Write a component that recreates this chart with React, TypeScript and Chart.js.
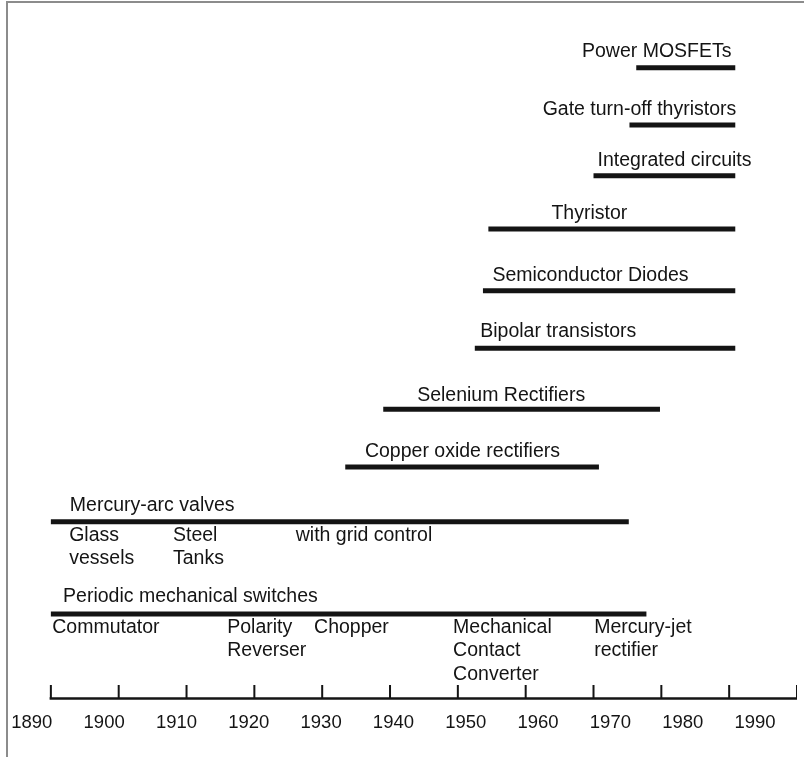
import React, { useEffect, useRef } from "react";
import { Chart, registerables } from "chart.js";

Chart.register(...registerables);

// ---- data ----
const technologies = [
  "Power MOSFETs",
  "Gate turn-off thyristors",
  "Integrated circuits",
  "Thyristor",
  "Semiconductor Diodes",
  "Bipolar transistors",
  "Selenium Rectifiers",
  "Copper oxide rectifiers",
  "Mercury-arc valves",
  "Periodic mechanical switches",
];
const startYears = [1976.3, 1975.3, 1970.0, 1954.5, 1953.7, 1952.5, 1939.0, 1933.4, 1890.0, 1890.0];
const endYears = [1990.9, 1990.9, 1990.9, 1990.9, 1990.9, 1990.9, 1979.8, 1970.8, 1975.2, 1977.8];
const labelYears = [1968.3, 1962.5, 1970.6, 1963.8, 1955.1, 1953.3, 1944.0, 1936.3, 1892.8, 1891.8];

const mercurySubLabels = [["Glass", "vessels"], ["Steel", "Tanks"], ["with grid control"]];
const mercurySubYears = [1892.7, 1908.0, 1926.1];
const switchSubLabels = [
  ["Commutator"],
  ["Polarity", "Reverser"],
  ["Chopper"],
  ["Mechanical", "Contact", "Converter"],
  ["Mercury-jet", "rectifier"],
];
const switchSubYears = [1890.2, 1916.0, 1928.8, 1949.3, 1970.1];

const axisTickYears = [1890, 1900, 1910, 1920, 1930, 1940, 1950, 1960, 1970, 1980, 1990, 2000];

// ---- layout (pixel rows inside chart area, y scale is reversed) ----
const rowY = [67.7, 125, 175.7, 229, 290.7, 348.3, 409.3, 467, 521.7, 614];
const labelGap = [11, 10, 10, 10.5, 10, 11.5, 8, 10, 10.5, 12.5];
const AXIS_Y = 698.5;
const TICK_TOP = 685;
const Y_MAX = 706;
const SUB_FIRST = 18.8;
const SUB_LINE = 23.4;

const INK = "#141414";
const FONT = '"Liberation Sans", Arial, Helvetica, sans-serif';
const FONT_SIZE = 19.5;

const textPlugin = {
  id: "timelineText",
  afterDatasetsDraw(chart: any) {
    const { ctx } = chart;
    const x = chart.scales.x;
    const y = chart.scales.y;
    ctx.save();
    ctx.font = `${FONT_SIZE}px ${FONT}`;
    ctx.fillStyle = INK;
    ctx.textAlign = "left";
    ctx.textBaseline = "alphabetic";
    technologies.forEach((name, i) => {
      ctx.fillText(name, x.getPixelForValue(labelYears[i]), y.getPixelForValue(rowY[i] - labelGap[i]));
    });
    const drawGroup = (groups: string[][], years: number[], row: number) => {
      groups.forEach((lines, gi) => {
        lines.forEach((line, li) => {
          ctx.fillText(
            line,
            x.getPixelForValue(years[gi]),
            y.getPixelForValue(rowY[row] + SUB_FIRST + li * SUB_LINE)
          );
        });
      });
    };
    drawGroup(mercurySubLabels, mercurySubYears, 8);
    drawGroup(switchSubLabels, switchSubYears, 9);
    ctx.restore();
  },
};

export default function App() {
  const ref = useRef<HTMLCanvasElement | null>(null);

  useEffect(() => {
    document.body.style.margin = "0";
    if (!ref.current) return;

    const barSets = technologies.map((name, i) => ({
      label: name,
      data: [
        { x: startYears[i], y: rowY[i] },
        { x: endYears[i], y: rowY[i] },
      ],
      borderColor: INK,
      borderWidth: 5,
      borderCapStyle: "butt" as const,
      pointRadius: 0,
      fill: false,
    }));

    const tickData: any[] = [];
    axisTickYears.forEach((yr) => {
      tickData.push({ x: yr, y: AXIS_Y }, { x: yr, y: TICK_TOP }, { x: yr, y: null });
    });

    const chart = new Chart(ref.current, {
      type: "line",
      data: {
        datasets: [
          ...barSets,
          {
            label: "axis",
            data: [
              { x: axisTickYears[0], y: AXIS_Y },
              { x: axisTickYears[axisTickYears.length - 1], y: AXIS_Y },
            ],
            borderColor: INK,
            borderWidth: 2.5,
            borderCapStyle: "square" as const,
            pointRadius: 0,
          },
          {
            label: "ticks",
            data: tickData,
            borderColor: INK,
            borderWidth: 2,
            pointRadius: 0,
            spanGaps: false,
          },
        ],
      },
      options: {
        responsive: false,
        animation: false,
        layout: { padding: { left: 0, right: 7, top: 0, bottom: 16.8 } },
        plugins: { legend: { display: false }, tooltip: { enabled: false } },
        scales: {
          x: { type: "linear", min: 1882.5, max: 2000, display: false },
          x2: {
            type: "linear",
            axis: "x",
            position: "bottom",
            min: 1885.6,
            max: 1995.8,
            grid: { display: false, drawTicks: false },
            border: { display: false },
            ticks: {
              stepSize: 10,
              includeBounds: false,
              padding: 6,
              color: INK,
              font: { family: FONT, size: 18.5 },
              callback: (v: any) => String(v),
            },
          },
          y: { type: "linear", min: 0, max: Y_MAX, reverse: true, display: false },
        },
      },
      plugins: [textPlugin],
    });
    return () => chart.destroy();
  }, []);

  return (
    <div style={{ position: "relative", width: 804, height: 757, background: "#fff" }}>
      <canvas ref={ref} width={804} height={757} style={{ display: "block" }} />
      <div
        style={{
          position: "absolute",
          left: 6,
          top: 1,
          width: 798,
          height: 756,
          borderTop: "2px solid #8c8c8c",
          borderLeft: "2px solid #8c8c8c",
          boxSizing: "border-box",
          pointerEvents: "none",
        }}
      />
    </div>
  );
}
